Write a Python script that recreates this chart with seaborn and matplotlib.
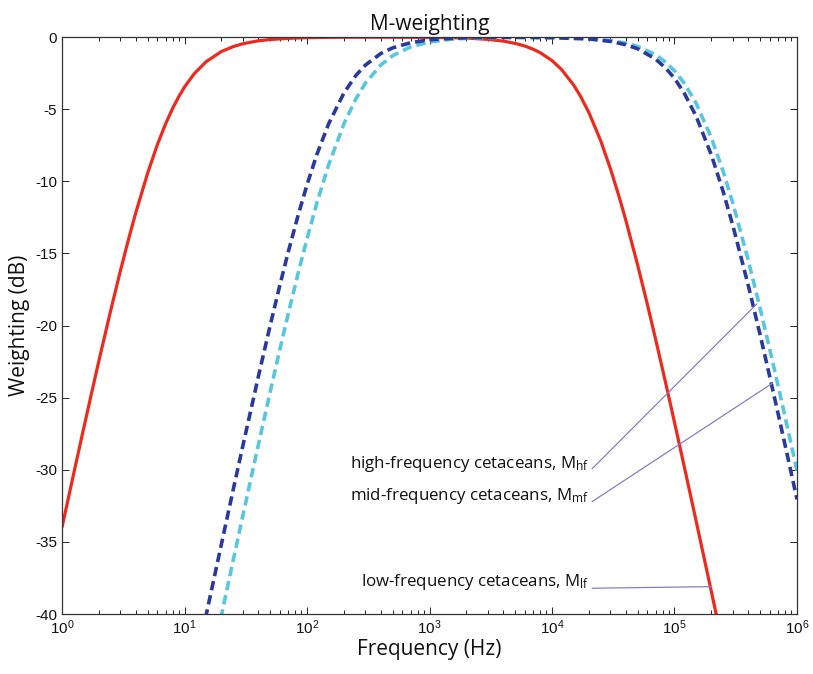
import numpy as np
import pandas as pd
import matplotlib
matplotlib.use("Agg")
import matplotlib.pyplot as plt
import seaborn as sns
from matplotlib.ticker import FixedLocator, LogLocator

# ---- data ----
lf_freq = [1, 1.25, 1.5, 1.75, 2, 2.5, 3, 3.5, 4, 5, 6, 7, 8, 9, 10, 12, 15, 20, 25, 30,
           40, 50, 70, 100, 150, 200, 500, 1000, 1500, 2000, 3000, 4000, 5000, 6000, 7000,
           8000, 10000, 12000, 15000, 17000, 20000, 25000, 30000, 35000, 40000, 50000,
           60000, 70000, 85000, 100000, 120000, 150000, 200000, 220000, 250000]
lf_db = [-33.98, -30.20, -27.15, -24.61, -22.44, -18.93, -16.18, -13.98, -12.18, -9.43,
         -7.46, -6.02, -4.94, -4.11, -3.46, -2.54, -1.71, -1.00, -0.66, -0.46,
         -0.26, -0.17, -0.09, -0.04, -0.02, -0.01, -0.01, -0.02, -0.04, -0.07,
         -0.16, -0.28, -0.44, -0.62, -0.84, -1.08, -1.63, -2.26, -3.32, -4.07,
         -5.23, -7.20, -9.13, -10.96, -12.68, -15.80, -18.52, -20.92, -24.04, -26.71,
         -29.76, -33.53, -38.45, -40.09, -42.29]

mf_freq = [10, 12, 15, 20, 25, 30, 40, 50, 60, 70, 85, 100, 120, 150, 200, 250, 300, 400,
           500, 700, 1000, 1500, 2000, 3000, 5000, 10000, 20000, 30000, 40000, 50000,
           70000, 85000, 100000, 120000, 150000, 200000, 250000, 300000, 400000, 500000,
           600000, 700000, 850000, 1000000]
mf_db = [-47.08, -43.93, -40.09, -35.16, -31.36, -28.30, -23.56, -20.00, -17.21, -14.95,
         -12.29, -10.24, -8.17, -6.02, -3.88, -2.67, -1.94, -1.14, -0.75, -0.39,
         -0.19, -0.09, -0.05, -0.02, -0.02, -0.04, -0.13, -0.30, -0.53, -0.81,
         -1.52, -2.16, -2.86, -3.88, -5.48, -8.17, -10.73, -13.09, -17.21, -20.64,
         -23.56, -26.08, -29.31, -32.05]

hf_freq = [15, 17, 20, 25, 30, 35, 40, 50, 60, 70, 85, 100, 120, 150, 200, 250, 300, 400,
           500, 700, 1000, 1500, 2000, 3000, 5000, 10000, 20000, 30000, 40000, 50000,
           70000, 85000, 100000, 120000, 150000, 200000, 250000, 300000, 400000, 500000,
           600000, 700000, 850000, 1000000]
hf_db = [-45.05, -42.89, -40.09, -36.26, -33.15, -30.54, -28.30, -24.61, -21.66, -19.24,
         -16.31, -13.98, -11.54, -8.87, -6.02, -4.30, -3.19, -1.94, -1.29, -0.68,
         -0.34, -0.15, -0.09, -0.04, -0.02, -0.03, -0.11, -0.24, -0.42, -0.65,
         -1.22, -1.75, -2.34, -3.19, -4.58, -6.98, -9.33, -11.54, -15.47, -18.81,
         -21.66, -24.15, -27.35, -30.06]

x_ticks = [1, 10, 100, 1000, 10000, 100000, 1000000]
y_ticks = [0, -5, -10, -15, -20, -25, -30, -35, -40]

labels = {
    "hf": "high-frequency cetaceans, M$_{\\mathsf{hf}}$",
    "mf": "mid-frequency cetaceans, M$_{\\mathsf{mf}}$",
    "lf": "low-frequency cetaceans, M$_{\\mathsf{lf}}$",
}

# ---- style ----
sns.set_theme(style="ticks")
plt.rcParams["font.family"] = ["Liberation Sans", "DejaVu Sans"]
plt.rcParams["axes.unicode_minus"] = False
plt.rcParams["mathtext.fontset"] = "custom"
plt.rcParams["mathtext.rm"] = "Liberation Sans"
plt.rcParams["mathtext.it"] = "Liberation Sans:italic"
plt.rcParams["mathtext.sf"] = "Open Sans"

fig = plt.figure(figsize=(8.13, 6.74), dpi=100)
ax = fig.add_axes([0.0763, 0.089, 0.904, 0.856])

lf = pd.DataFrame({"f": lf_freq, "db": lf_db})
mf = pd.DataFrame({"f": mf_freq, "db": mf_db})
hf = pd.DataFrame({"f": hf_freq, "db": hf_db})

sns.lineplot(data=lf, x="f", y="db", ax=ax, color="#ec2a1e", lw=2.3, estimator=None, sort=False)
sns.lineplot(data=hf, x="f", y="db", ax=ax, color="#58c6de", lw=2.6, estimator=None, sort=False)
ax.lines[-1].set_dashes([2.6, 1.4])
sns.lineplot(data=mf, x="f", y="db", ax=ax, color="#2a3a9c", lw=2.6, estimator=None, sort=False)
ax.lines[-1].set_dashes([2.6, 1.4])

ax.set_xscale("log")
ax.set_xlim(1, 1e6)
ax.set_ylim(-40, 0)
ax.xaxis.set_major_locator(FixedLocator(x_ticks))
ax.xaxis.set_minor_locator(LogLocator(base=10, subs=np.arange(2, 10), numticks=100))
ax.yaxis.set_major_locator(FixedLocator(y_ticks))
ax.tick_params(which="both", direction="in", top=True, right=True, colors="#222222",
               labelcolor="#111111", labelsize=11, width=0.7)
ax.tick_params(which="major", length=5)
ax.tick_params(which="minor", length=3)
for s in ax.spines.values():
    s.set_color("#333333")
    s.set_linewidth(0.9)

lab_font = dict(family=["Open Sans", "DejaVu Sans"], fontsize=15, color="#111111")
ax.set_xlabel("Frequency (Hz)", labelpad=1, **lab_font)
ax.set_ylabel("Weighting (dB)", labelpad=4, **lab_font)
ax.set_title("M-weighting", pad=5, family=["Open Sans", "DejaVu Sans"], fontsize=15,
             color="#111111")

ann_font = dict(family=["Open Sans", "DejaVu Sans"], fontsize=12.2, color="#111111")
arrow = dict(arrowstyle="-", color="#8a7cc4", lw=0.9, shrinkA=0, shrinkB=0)
ax.annotate(labels["hf"], xy=(4.7e5, -18.5), xytext=(2.0e4, -29.6), ha="right", va="center",
            arrowprops=dict(arrow, relpos=(1.0, 0.1)), **ann_font)
ax.annotate(labels["mf"], xy=(6.3e5, -24.0), xytext=(2.0e4, -31.8), ha="right", va="center",
            arrowprops=dict(arrow, relpos=(1.0, 0.1)), **ann_font)
ax.annotate(labels["lf"], xy=(2.02e5, -38.1), xytext=(2.0e4, -37.8), ha="right", va="center",
            arrowprops=dict(arrow, relpos=(1.0, 0.2)), **ann_font)

fig.savefig("out.png", dpi=100)
